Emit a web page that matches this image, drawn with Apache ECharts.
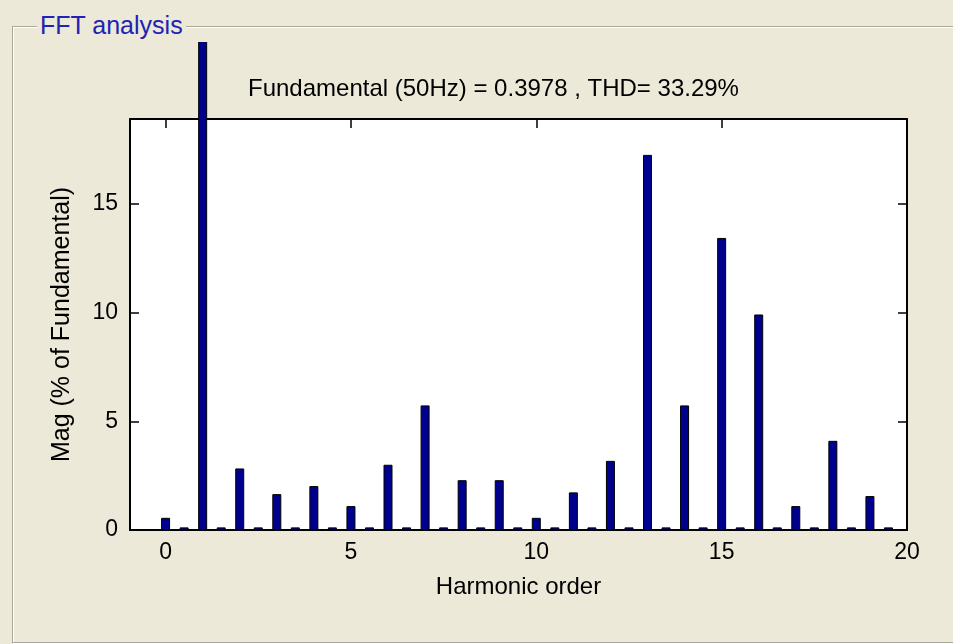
<!DOCTYPE html>
<html>
<head>
<meta charset="utf-8">
<script src="https://cdn.jsdelivr.net/npm/echarts@6/dist/echarts.min.js"></script>
<style>
  html, body { margin: 0; padding: 0; background: #ECE9D8; }
  body { width: 953px; height: 644px; position: relative; overflow: hidden; }
  /* groupbox frame, XP etched style */
  .gb {
    position: absolute; left: 12px; top: 26px; width: 960px; height: 615px;
    border: 1px solid #ACA899;
    box-shadow: inset 1px 1px 0 #fff, 1px 1px 0 #fff;
  }
  .gb-title {
    position: absolute; left: 37px; top: 10px; padding: 0 3px;
    background: #ECE9D8; color: #2222B4;
    font: 25px "Liberation Sans", Arial, sans-serif; line-height: 30px;
  }
  #chart { position: absolute; left: 0; top: 42px; width: 953px; height: 602px; }
</style>
</head>
<body>
<div class="gb"></div>
<div class="gb-title">FFT analysis</div>
<div id="chart"></div>
<script>
// harmonic orders (integer) and their magnitudes, % of fundamental
const harmonicOrders = [0, 1, 2, 3, 4, 5, 6, 7, 8, 9, 10, 11, 12, 13, 14, 15, 16, 17, 18, 19]
const harmonicMags = [0.56, 100, 2.83, 1.65, 2.02, 1.10, 3.00, 5.73, 2.29, 2.29,
  0.56, 1.73, 3.18, 17.25, 5.73, 13.43, 9.91, 1.10, 4.10, 1.56]
// interharmonics at half orders, very small
const interOrders = [0.5, 1.5, 2.5, 3.5, 4.5, 5.5, 6.5, 7.5, 8.5, 9.5,
  10.5, 11.5, 12.5, 13.5, 14.5, 15.5, 16.5, 17.5, 18.5, 19.5]
const interMags = [0.12, 0.12, 0.12, 0.12, 0.12, 0.12, 0.12, 0.12, 0.12, 0.12,
  0.12, 0.12, 0.12, 0.12, 0.12, 0.12, 0.12, 0.12, 0.12, 0.12]
const xTicks = [0, 5, 10, 15, 20]
const yTicks = [0, 5, 10, 15]

const titleText = 'Fundamental (50Hz) = 0.3978 , THD= 33.29%'

const points = harmonicOrders.map((x, i) => [x, harmonicMags[i]])
  .concat(interOrders.map((x, i) => [x, interMags[i]]))
  .sort((a, b) => a[0] - b[0])

const chart = echarts.init(document.getElementById('chart'))
const font = '"Liberation Sans", Arial, sans-serif'

function xAx(pos, show) {
  return {
    type: 'value', position: pos, min: -0.96, max: 20,
    axisLine: { onZero: false, lineStyle: { color: '#000', width: 2 } },
    axisTick: { inside: true, length: 9, customValues: xTicks, lineStyle: { color: '#000', width: 1.5 } },
    axisLabel: { show, customValues: xTicks, color: '#000', fontSize: 23, fontFamily: font, margin: 11 },
    splitLine: { show: false },
    name: show ? 'Harmonic order' : '', nameLocation: 'middle', nameGap: 45,
    nameTextStyle: { color: '#000', fontSize: 24, fontFamily: font },
  }
}
function yAx(pos, show) {
  return {
    type: 'value', position: pos, min: 0, max: 18.9,
    axisLine: { show: true, onZero: false, lineStyle: { color: '#000', width: 2 } },
    axisTick: { show: true, inside: true, length: 9, customValues: yTicks, lineStyle: { color: '#000', width: 1.5 } },
    axisLabel: { show, customValues: yTicks, color: '#000', fontSize: 23, fontFamily: font, margin: 12 },
    splitLine: { show: false },
    name: show ? 'Mag (% of Fundamental)' : '', nameLocation: 'middle', nameGap: 55, nameRotate: 90,
    nameTextStyle: { color: '#000', fontSize: 25, fontFamily: font },
  }
}

chart.setOption({
  animation: false,
  title: {
    text: titleText, left: 248, top: 35, padding: 0,
    textStyle: { color: '#000', fontSize: 24, fontWeight: 'normal', fontFamily: font },
  },
  grid: { left: 130, right: 46, top: 77, bottom: 114, show: true, backgroundColor: '#fff', borderWidth: 0 },
  xAxis: [xAx('bottom', true), xAx('top', false)],
  yAxis: [yAx('left', true), yAx('right', false)],
  series: [{
    type: 'bar',
    data: points,
    barWidth: 9,
    clip: false,
    itemStyle: { color: '#00008F', borderColor: '#000', borderWidth: 1 },
  }],
})
</script>
</body>
</html>
